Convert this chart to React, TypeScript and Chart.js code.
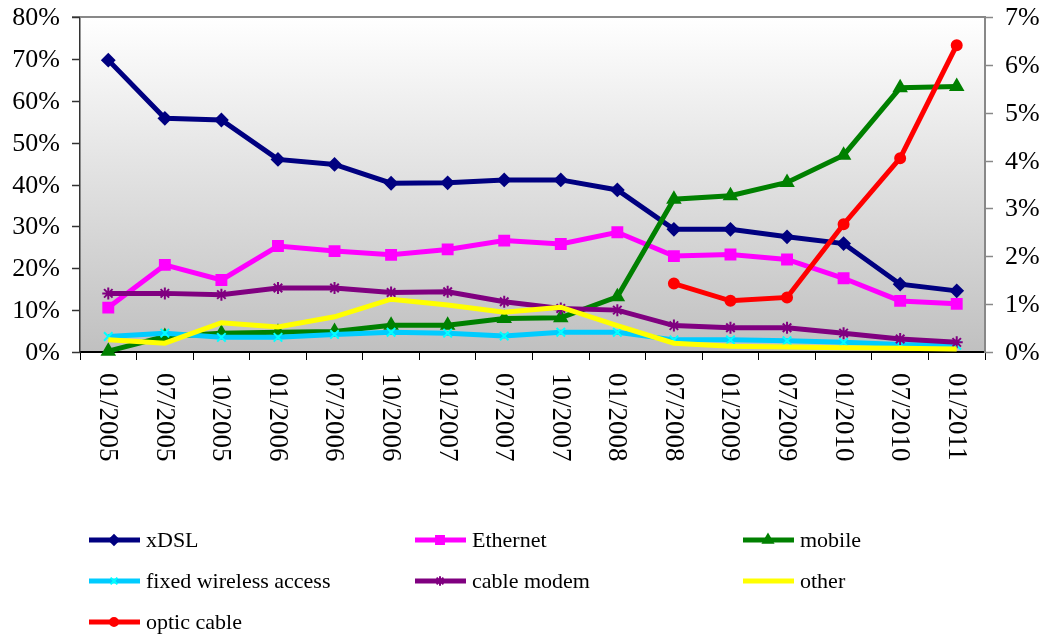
import React, { useEffect, useRef } from "react";
import { Chart, registerables } from "chart.js";
import { drawPoint } from "chart.js/helpers";

Chart.register(...registerables);

const categories = [
  "01/2005", "07/2005", "10/2005", "01/2006", "07/2006", "10/2006", "01/2007", "07/2007",
  "10/2007", "01/2008", "07/2008", "01/2009", "07/2009", "01/2010", "07/2010", "01/2011",
];

const xdsl = [69.7, 55.8, 55.4, 46.0, 44.8, 40.3, 40.4, 41.1, 41.1, 38.7, 29.3, 29.3, 27.5, 25.9, 16.2, 14.6];
const ethernet = [10.6, 20.8, 17.2, 25.3, 24.1, 23.2, 24.5, 26.6, 25.8, 28.6, 22.9, 23.3, 22.1, 17.6, 12.2, 11.5];
const mobile = [0.2, 3.7, 4.5, 4.7, 4.9, 6.4, 6.4, 8.0, 8.2, 13.2, 36.5, 37.3, 40.5, 47.0, 63.1, 63.4];
const fixedWireless = [3.7, 4.5, 3.5, 3.5, 4.2, 4.7, 4.5, 3.8, 4.7, 4.7, 2.9, 2.9, 2.7, 2.3, 1.8, 1.6];
const cableModem = [14.0, 14.0, 13.7, 15.3, 15.3, 14.2, 14.4, 12.0, 10.4, 10.0, 6.3, 5.8, 5.8, 4.5, 3.1, 2.3];
const other = [2.9, 2.1, 7.0, 6.0, 8.4, 12.6, 11.2, 9.5, 10.7, 6.3, 2.1, 1.4, 1.2, 1.0, 0.9, 0.7];
// optic cable is plotted against the right-hand axis (0-7%)
const opticCable = [null, null, null, null, null, null, null, null, null, null, 1.43, 1.07, 1.14, 2.67, 4.05, 6.41];

const leftTicksMax = 80;
const leftStep = 10;
const rightTicksMax = 7;
const rightStep = 1;

const FONT = "'Liberation Serif', 'Times New Roman', serif";

const bgPlugin = {
  id: "bgGradient",
  beforeDraw(chart: any) {
    const { ctx, chartArea: a } = chart;
    const g = ctx.createLinearGradient(0, a.top, 0, a.bottom);
    g.addColorStop(0, "#ffffff");
    g.addColorStop(1, "#c0c0c0");
    ctx.save();
    ctx.fillStyle = g;
    ctx.fillRect(a.left, a.top, a.right - a.left, a.bottom - a.top);
    ctx.restore();
  },
  afterDraw(chart: any) {
    const { ctx, chartArea: a } = chart;
    ctx.save();
    // top border
    ctx.strokeStyle = "#888888";
    ctx.lineWidth = 2;
    ctx.beginPath();
    ctx.moveTo(a.left - 8, a.top);
    ctx.lineTo(a.right, a.top);
    ctx.stroke();

    // tick marks and labels on both value axes (outside)
    const yL = chart.scales.y;
    const yR = chart.scales.y1;
    ctx.font = `26px ${FONT}`;
    ctx.textBaseline = "middle";
    yL.ticks.forEach((t: any) => {
      const y = Math.round(yL.getPixelForValue(t.value)) + 0.5;
      ctx.lineWidth = 1.5;
      ctx.strokeStyle = "#333";
      ctx.beginPath();
      ctx.moveTo(a.left - 8, y);
      ctx.lineTo(a.left, y);
      ctx.stroke();
      ctx.fillStyle = "#000";
      ctx.textAlign = "right";
      ctx.fillText(t.value + "%", a.left - 20, y + 1);
    });
    yR.ticks.forEach((t: any) => {
      const y = Math.round(yR.getPixelForValue(t.value)) + 0.5;
      ctx.lineWidth = 1.5;
      ctx.strokeStyle = "#888";
      ctx.beginPath();
      ctx.moveTo(a.right, y);
      ctx.lineTo(a.right + 8, y);
      ctx.stroke();
      ctx.fillStyle = "#000";
      ctx.textAlign = "left";
      ctx.fillText(t.value + "%", a.right + 20, y + 1);
    });

    // rotated x labels (reading top to bottom)
    const xs = chart.scales.x;
    ctx.fillStyle = "#000";
    ctx.font = `27px ${FONT}`;
    ctx.textAlign = "left";
    ctx.textBaseline = "middle";
    categories.forEach((lab, i) => {
      const x = xs.getPixelForValue(i);
      ctx.save();
      ctx.translate(x - 1, a.bottom + 21);
      ctx.rotate(Math.PI / 2);
      ctx.fillText(lab, 0, 0);
      ctx.restore();
    });

    // legend in 3 columns
    const colX = [89, 415, 743];
    const rowY = [540, 581, 622];
    ctx.font = `22px ${FONT}`;
    chart.data.datasets.forEach((ds: any, i: number) => {
      const cx = colX[i % 3];
      const cy = rowY[Math.floor(i / 3)];
      ctx.strokeStyle = ds.borderColor;
      ctx.lineWidth = 5;
      ctx.lineCap = "butt";
      ctx.beginPath();
      ctx.moveTo(cx, cy);
      ctx.lineTo(cx + 51, cy);
      ctx.stroke();
      if (ds.pointStyle && ds.pointRadius > 0) {
        ctx.fillStyle = ds.pointBackgroundColor;
        ctx.strokeStyle = ds.pointBorderColor;
        ctx.lineWidth = ds.pointBorderWidth;
        drawPoint(ctx, { pointStyle: ds.pointStyle, rotation: 0, radius: ds.pointRadius * 0.8, borderWidth: ds.pointBorderWidth }, cx + 25, cy);
      }
      ctx.fillStyle = "#000";
      ctx.textAlign = "left";
      ctx.textBaseline = "middle";
      ctx.fillText(ds.label, cx + 57, cy + 1);
    });
    ctx.restore();
  },
};

function mk(label: string, data: any[], color: string, pointStyle: any, radius: number, order: number, markerColor?: string, axis = "y") {
  const mc = markerColor || color;
  return {
    label,
    data,
    borderColor: color,
    backgroundColor: color,
    borderWidth: 5,
    pointStyle,
    pointRadius: radius,
    pointHoverRadius: radius,
    pointBackgroundColor: mc,
    pointBorderColor: mc,
    pointBorderWidth: 2,
    tension: 0,
    yAxisID: axis,
    order,
    clip: 10,
  };
}

export default function App() {
  const ref = useRef<HTMLCanvasElement | null>(null);
  useEffect(() => {
    document.body.style.margin = "0";
    if (!ref.current) return;
    const chart = new Chart(ref.current, {
      type: "line",
      data: {
        labels: categories,
        datasets: [
          mk("xDSL", xdsl, "#000080", "rectRot", 6, 7),
          mk("Ethernet", ethernet, "#ff00ff", "rect", 7, 6),
          mk("mobile", mobile, "#008000", "triangle", 7, 5),
          mk("fixed wireless access", fixedWireless, "#00ccff", "crossRot", 6, 4, "#00ffff"),
          mk("cable modem", cableModem, "#800080", "star", 6, 3),
          mk("other", other, "#ffff00", false, 0, 2),
          mk("optic cable", opticCable, "#ff0000", "circle", 5, 1, undefined, "y1"),
        ] as any,
      },
      options: {
        animation: false,
        responsive: false,
        layout: { padding: { top: 17, left: 0, right: 0, bottom: 0 } },
        plugins: { legend: { display: false }, tooltip: { enabled: false } },
        scales: {
          x: {
            type: "category",
            offset: true,
            grid: { offset: true, drawOnChartArea: false, drawTicks: true, tickLength: 8, color: "#000", lineWidth: 1 },
            border: { color: "#000", width: 2 },
            ticks: { display: false },
            afterFit: (s: any) => { s.height = 287; s.paddingLeft = 0; s.paddingRight = 0; },
          },
          y: {
            position: "left",
            min: 0,
            max: leftTicksMax,
            ticks: { stepSize: leftStep, display: false },
            grid: { drawOnChartArea: false, drawTicks: false },
            border: { color: "#333", width: 1.5 },
            afterFit: (s: any) => { s.width = 80; s.paddingTop = 0; s.paddingBottom = 0; },
          },
          y1: {
            position: "right",
            min: 0,
            max: rightTicksMax,
            ticks: { stepSize: rightStep, display: false },
            grid: { drawOnChartArea: false, drawTicks: false },
            border: { color: "#888", width: 2 },
            afterFit: (s: any) => { s.width = 63; s.paddingTop = 0; s.paddingBottom = 0; },
          },
        },
      } as any,
      plugins: [bgPlugin],
    });
    return () => chart.destroy();
  }, []);
  return <canvas ref={ref} width={1048} height={639} style={{ display: "block" }} />;
}
